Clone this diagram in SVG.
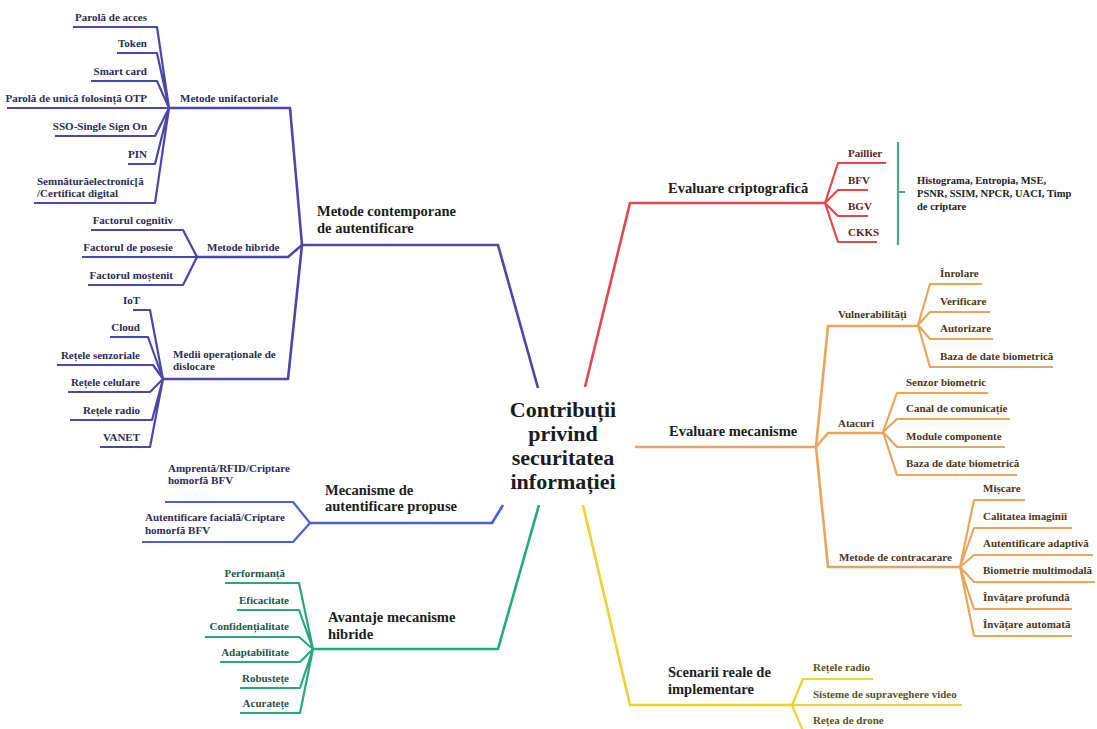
<svg xmlns="http://www.w3.org/2000/svg" width="1097" height="729" viewBox="0 0 1097 729">
<style>
text{font-family:"Liberation Serif","DejaVu Serif",serif;font-weight:bold}
.c{fill:none;stroke-linejoin:round;stroke-linecap:butt}
.m{stroke-width:2.6}
.s{stroke-width:2.2}
.blue{stroke:#4b47a8}
.blue2{stroke:#4a5fcf}
.green{stroke:#26a97a}
.red{stroke:#e0484a}
.brk{stroke:#3bb08a}
.org{stroke:#eba55a}
.yel{stroke:#ecd232}
.root{font-size:22px;fill:#1a1a22;text-anchor:middle}
.br{font-size:14.5px;fill:#1c1c1c}
.lf{font-size:11px}
.sm{font-size:10.5px}
.tb{fill:#2b2b55}
.tr{fill:#5b2525}
.to{fill:#4e3418}
.tg{fill:#22554a}
.ty{fill:#5c5218}
.tk{fill:#222}
.e{text-anchor:end}
</style>
<rect width="1097" height="729" fill="#fff"/>
<g id="connectors">
<path class="c m blue" d="M538,388 L498,245 H302"/>
<path class="c m blue" d="M302,245 L290,108 H169"/>
<path class="c s blue" d="M73,27 H157 L169,108 M117,53 H157 L169,108 M91,81 H157 L169,108 M7,108 H169 M55,136 H155 L169,108 M128,164 H155 L169,108 M34,203 H155 L169,108"/>
<path class="c m blue" d="M302,245 L288,257 H197"/>
<path class="c s blue" d="M91,230 H183 L197,257 M82,257 H197 M88,285 H183 L197,257"/>
<path class="c m blue" d="M302,245 L288,379 H163"/>
<path class="c s blue" d="M133,310 H150 L163,379 M110,337 H148 L163,379 M57,365 H153 L163,379 M68,392 H150 L163,379 M70,420 H152 L163,379 M100,447 H150 L163,379"/>
<path class="c m blue2" d="M503,505 L492,523 H310"/>
<path class="c s blue2" d="M165,502 H293 L310,523 M142,542 H293 L310,523"/>
<path class="c m green" d="M539,505 L498,649 H313"/>
<path class="c s green" d="M225,583 H299 L313,649 M237,610 H299 L313,649 M205,637 H299 L313,649 M220,662 H300 L313,649 M240,688 H300 L313,649 M240,713 H300 L313,649"/>
<path class="c m red" d="M585,387 L630,203 H825"/>
<path class="c s red" d="M825,203 L838,163 H886 M825,203 L838,190 H868 M825,203 L838,216 H868 M825,203 L838,242 H877"/>
<path class="c s brk" d="M898,142 V245 M898,192 H905"/>
<path class="c m org" d="M635,447 H816 M816,447 L828,326 H918 M816,447 L828,433 H883 M816,447 L828,567 H960"/>
<path class="c s org" d="M918,325 L930,284 H982 M918,325 L930,312 H990 M918,325 L930,339 H993 M918,325 L930,367 H1053"/>
<path class="c s org" d="M883,432 L897,393 H988 M883,432 L897,419 H1010 M883,432 L897,447 H1005 M883,432 L897,475 H1017"/>
<path class="c s org" d="M960,567 L974,500 H1025 M960,567 L974,528 H1072 M960,567 L974,555 H1093 M960,567 L974,582 H1095 M960,567 L974,609 H1072 M960,567 L974,636 H1072"/>
<path class="c m yel" d="M583,505 L630,705 H792"/>
<path class="c s yel" d="M792,705 L803,679 H873 M792,705 H962 M792,705 L803,731 H890"/>
</g>
<g id="root">
<text class="root" x="563" y="417">Contribuții</text>
<text class="root" x="563" y="441">privind</text>
<text class="root" x="563" y="465">securitatea</text>
<text class="root" x="563" y="489">informației</text>
</g>
<g id="metode-contemporane">
<text class="br" x="317" y="216">Metode contemporane</text>
<text class="br" x="317" y="233">de autentificare</text>
</g>
<g id="metode-unifactoriale">
<text class="lf tb" x="180" y="102">Metode unifactoriale</text>
</g>
<g id="unif-leaves" class="lf tb">
<text class="e" x="147" y="21">Parolă de acces</text>
<text class="e" x="147" y="47">Token</text>
<text class="e" x="147" y="75">Smart card</text>
<text class="e" x="147" y="102">Parolă de unică folosință OTP</text>
<text class="e" x="147" y="130">SSO-Single Sign On</text>
<text class="e" x="147" y="158">PIN</text>
<text x="37" y="185">Semnăturăelectronic[ă</text>
<text x="37" y="197">/Certificat digital</text>
</g>
<g id="metode-hibride">
<text class="lf tb" x="207" y="251">Metode hibride</text>
</g>
<g id="hibride-leaves" class="lf tb">
<text class="e" x="173" y="224">Factorul cognitiv</text>
<text class="e" x="173" y="251">Factorul de posesie</text>
<text class="e" x="173" y="279">Factorul moștenit</text>
</g>
<g id="medii">
<text class="lf tb" x="173" y="358">Medii operaționale de</text>
<text class="lf tb" x="173" y="370">dislocare</text>
</g>
<g id="medii-leaves" class="lf tb">
<text class="e" x="140" y="304">IoT</text>
<text class="e" x="140" y="331">Cloud</text>
<text class="e" x="140" y="359">Rețele senzoriale</text>
<text class="e" x="140" y="386">Rețele celulare</text>
<text class="e" x="140" y="414">Rețele radio</text>
<text class="e" x="140" y="441">VANET</text>
</g>
<g id="mecanisme">
<text class="br" x="325" y="495">Mecanisme de</text>
<text class="br" x="325" y="511">autentificare propuse</text>
</g>
<g id="mecanisme-leaves" class="lf tb">
<text x="168" y="472">Amprentă/RFID/Criptare</text>
<text x="168" y="484">homorfă BFV</text>
<text x="145" y="521">Autentificare facială/Criptare</text>
<text x="145" y="534">homorfă BFV</text>
</g>
<g id="avantaje">
<text class="br" x="328" y="622">Avantaje mecanisme</text>
<text class="br" x="328" y="639">hibride</text>
</g>
<g id="avantaje-leaves" class="lf tg">
<text class="e" x="285" y="577">Performanță</text>
<text class="e" x="289" y="604">Eficacitate</text>
<text class="e" x="289" y="630">Confidențialitate</text>
<text class="e" x="289" y="656">Adaptabilitate</text>
<text class="e" x="289" y="682">Robustețe</text>
<text class="e" x="289" y="707">Acuratețe</text>
</g>
<g id="evaluare-criptografica">
<text class="br" x="668" y="193">Evaluare criptografică</text>
</g>
<g id="cripto-leaves" class="lf tr">
<text x="848" y="157">Paillier</text>
<text x="848" y="184">BFV</text>
<text x="848" y="210">BGV</text>
<text x="848" y="236">CKKS</text>
</g>
<g id="metrici" class="sm tk">
<text x="917" y="184">Histograma, Entropia, MSE,</text>
<text x="917" y="197">PSNR, SSIM, NPCR, UACI, Timp</text>
<text x="917" y="210">de criptare</text>
</g>
<g id="evaluare-mecanisme">
<text class="br" x="669" y="436">Evaluare mecanisme</text>
</g>
<g id="vulnerabilitati">
<text class="lf to" x="838" y="318">Vulnerabilități</text>
</g>
<g id="vuln-leaves" class="lf to">
<text x="940" y="277">Înrolare</text>
<text x="940" y="305">Verificare</text>
<text x="940" y="332">Autorizare</text>
<text x="940" y="360">Baza de date biometrică</text>
</g>
<g id="atacuri">
<text class="lf to" x="838" y="427">Atacuri</text>
</g>
<g id="atacuri-leaves" class="lf to">
<text x="906" y="386">Senzor biometric</text>
<text x="906" y="412">Canal de comunicație</text>
<text x="906" y="440">Module componente</text>
<text x="906" y="467">Baza de date biometrică</text>
</g>
<g id="contracarare">
<text class="lf to" x="839" y="561">Metode de contracarare</text>
</g>
<g id="contracarare-leaves" class="lf to">
<text x="983" y="492">Mișcare</text>
<text x="983" y="520">Calitatea imaginii</text>
<text x="983" y="547">Autentificare adaptivă</text>
<text x="983" y="574">Biometrie multimodală</text>
<text x="983" y="601">Învățare profundă</text>
<text x="983" y="628">Învățare automată</text>
</g>
<g id="scenarii">
<text class="br" x="668" y="677">Scenarii reale de</text>
<text class="br" x="668" y="694">implementare</text>
</g>
<g id="scenarii-leaves" class="lf ty">
<text x="813" y="671">Rețele radio</text>
<text x="813" y="698">Sisteme de supraveghere video</text>
<text x="813" y="724">Rețea de drone</text>
</g>
</svg>
